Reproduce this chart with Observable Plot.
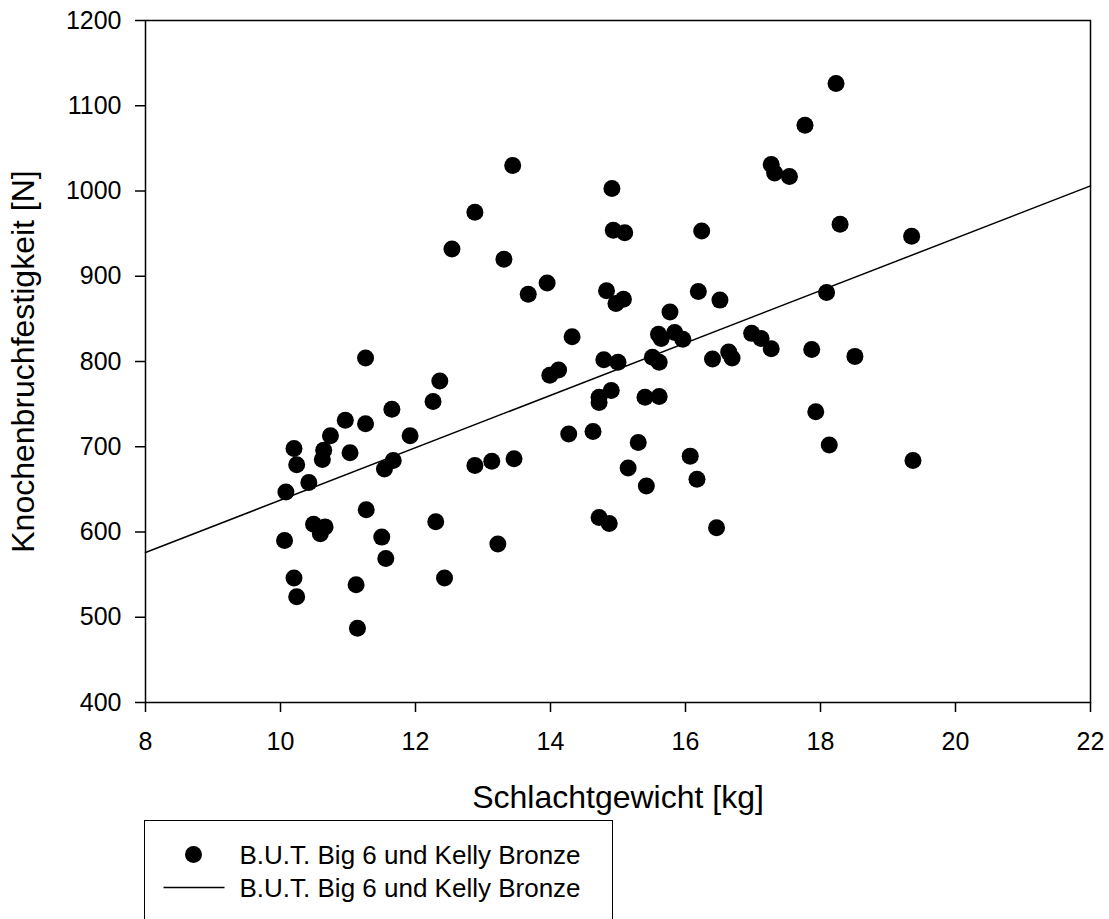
<!DOCTYPE html>
<html><head><meta charset="utf-8">
<script src="https://cdn.jsdelivr.net/npm/d3@7"></script>
<script src="https://cdn.jsdelivr.net/npm/@observablehq/plot@0.6"></script>
<style>
html,body{margin:0;padding:0;background:#fff;overflow:hidden;}
#wrap{position:relative;width:1109px;height:919px;font-family:"Liberation Sans",Arial,Helvetica,sans-serif;}
#legend{position:absolute;left:144px;top:820px;width:469px;height:130px;border:1.5px solid #000;box-sizing:border-box;background:#fff;}
#legend svg{display:block;}
</style></head><body>
<div id="wrap"><div id="chart"></div>
<div id="legend"><svg width="466" height="120">
<circle cx="48.5" cy="33.5" r="8.5" fill="#000"></circle>
<line x1="18.5" x2="79.5" y1="66.5" y2="66.5" stroke="#000" stroke-width="1.5"></line>
<text x="94.5" y="42.5" font-size="26" font-family="Liberation Sans, Arial, sans-serif">B.U.T. Big 6 und Kelly Bronze</text>
<text x="94.5" y="75.5" font-size="26" font-family="Liberation Sans, Arial, sans-serif">B.U.T. Big 6 und Kelly Bronze</text>
</svg></div></div>
<script>
const weight = [11.26,12.36,12.26,11.65,10.96,11.26,10.74,11.92,10.20,10.64,10.62,11.03,10.24,11.67,11.54,10.42,10.08,12.88,13.13,11.27,10.49,10.66,10.59,10.06,12.30,11.50,13.22,11.56,10.20,12.43,11.12,10.24,11.14,
13.44,14.91,12.88,14.93,15.10,16.24,12.54,13.31,13.95,13.67,14.83,15.08,14.97,16.19,16.51,15.77,14.32,15.60,15.64,15.84,15.96,13.99,14.12,14.79,15.00,15.51,15.61,16.40,16.64,16.69,14.72,14.90,14.72,15.40,15.61,14.27,14.63,15.30,13.46,15.15,15.42,16.07,16.17,14.72,14.87,16.46,
18.23,17.77,17.27,17.32,17.54,18.29,19.35,18.09,16.98,17.12,17.27,17.87,18.51,17.93,18.13,19.37];
const strength = [804,777,753,744,731,727,713,713,698,696,685,693,679,684,674,658,647,678,683,626,609,606,598,590,612,594,586,569,546,546,538,524,487,
1030,1003,975,954,951,953,932,920,892,879,883,873,868,882,872,858,829,832,827,834,826,784,790,802,799,805,799,803,811,804,758,766,752,758,759,715,718,705,686,675,654,689,662,617,610,605,
1126,1077,1031,1021,1017,961,947,881,833,827,815,814,806,741,702,684];
const fitX = [8, 22];
const fitY = [576, 1006];
const xTicks = [8,10,12,14,16,18,20,22];
const yTicks = [400,500,600,700,800,900,1000,1100,1200];
const xTitle = "Schlachtgewicht [kg]";
const yTitle = "Knochenbruchfestigkeit [N]";

const pts = weight.map((w,i)=>({x:w, y:strength[i]}));
const fit = fitX.map((x,i)=>({x, y:fitY[i]}));

const chart = Plot.plot({
  width:1109, height:820,
  marginLeft:145, marginRight:19, marginTop:20, marginBottom:118,
  x:{domain:[8,22]}, y:{domain:[400,1200]},
  style:{fontFamily:"Liberation Sans, Arial, Helvetica, sans-serif", fontSize:"25px", color:"#000", background:"#fff", overflow:"visible"},
  marks:[
    Plot.axisX({ticks:xTicks, tickSize:10, tickPadding:20, label:null, strokeWidth:1.5, tickFormat:d3.format("d")}),
    Plot.axisY({ticks:yTicks, tickSize:10, tickPadding:14, label:null, strokeWidth:1.5, tickFormat:d3.format("d")}),
    Plot.line(fit, {x:"x", y:"y", stroke:"#000", strokeWidth:1.5}),
    Plot.dot(pts, {x:"x", y:"y", r:8.5, fill:"#000"}),
    Plot.frame({stroke:"#000", strokeWidth:1.5}),
    Plot.text([xTitle], {text:d=>d, frameAnchor:"bottom", dy:105, lineAnchor:"bottom", fontSize:32, fill:"#000"}),
    Plot.text([yTitle], {text:d=>d, frameAnchor:"left", dx:-111.5, rotate:-90, lineAnchor:"bottom", textAnchor:"middle", fontSize:32, fill:"#000"})
  ]
});
document.getElementById("chart").appendChild(chart);
</script>
</body></html>
